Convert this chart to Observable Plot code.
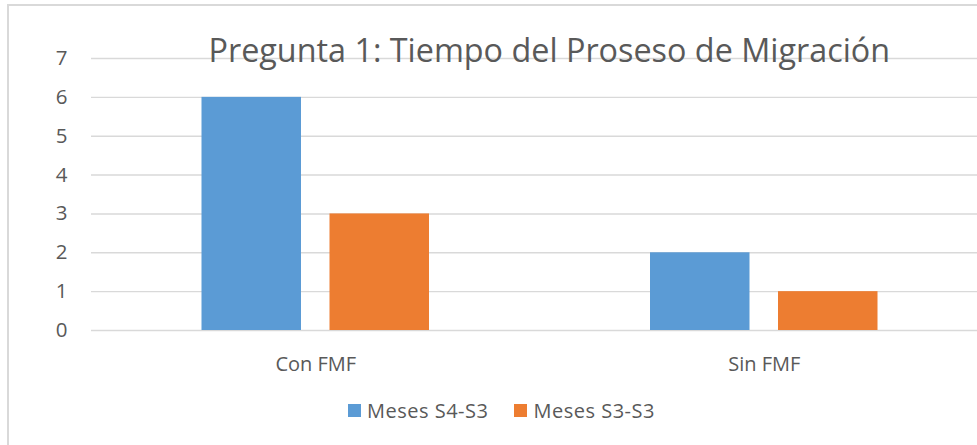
<!DOCTYPE html>
<html>
<head>
<meta charset="utf-8">
<script src="https://cdn.jsdelivr.net/npm/d3@7"></script>
<script src="https://cdn.jsdelivr.net/npm/@observablehq/plot@0.6"></script>
<style>
  body { margin: 0; background: #fff; font-family: "Open Sans", sans-serif; }
  #wrap { position: relative; width: 977px; height: 445px; overflow: hidden; background: #fff; }
  #frame { position: absolute; left: 7px; top: 4px; width: 1200px; height: 800px; border: 2px solid #d9d9d9; box-sizing: border-box; }
  #chart { position: absolute; left: 0; top: 0; }
  #title { position: absolute; top: 0; white-space: nowrap; color: #595959; font-family: "Open Sans", sans-serif; }
  #legend { position: absolute; top: 397px; left: 0; display: flex; align-items: center; color: #595959; font-size: 20px; letter-spacing: 0.5px; white-space: nowrap; }
  .sw { width: 13px; height: 13px; display: inline-block; }
</style>
</head>
<body>
<div id="wrap">
  <div id="frame"></div>
  <div id="chart"></div>
  <div id="title"></div>
  <div id="legend"></div>
</div>
<script>
const titleText = "Pregunta 1: Tiempo del Proseso de Migración";
const categories = ["Con FMF", "Sin FMF"];
const seriesNames = ["Meses S4-S3", "Meses S3-S3"];
const mesesS4S3 = [6, 2];
const mesesS3S3 = [3, 1];
const yTicks = [0, 1, 2, 3, 4, 5, 6, 7];
const seriesColors = ["#5B9BD5", "#ED7D31"];

const dataA = categories.map((c, i) => ({category: c, value: mesesS4S3[i]}));
const dataB = categories.map((c, i) => ({category: c, value: mesesS3S3[i]}));

const plot = Plot.plot({
  width: 977,
  height: 380,
  marginLeft: 91,
  marginRight: 0,
  marginTop: 58,
  marginBottom: 50,
  style: {fontFamily: "Open Sans, sans-serif", fontSize: "19px", color: "#595959", background: "transparent"},
  x: {domain: categories, range: [91, 988], padding: 0, round: false, axis: null},
  y: {domain: [0, 7], axis: null},
  marks: [
    Plot.ruleY(yTicks, {stroke: "#d9d9d9", strokeWidth: 1.4}),
    Plot.barY(dataA, {x: "category", y: "value", fill: seriesColors[0], insetLeft: 110.5, insetRight: 238.5}),
    Plot.barY(dataB, {x: "category", y: "value", fill: seriesColors[1], insetLeft: 238.5, insetRight: 110.5}),
    Plot.axisY(yTicks, {tickSize: 0, tickPadding: 24, fontSize: 20.5, textAnchor: "middle", dx: -6, label: null}),
    Plot.axisX({tickSize: 0, tickPadding: 26, fontSize: 20, label: null, style: {letterSpacing: "0.5px"}})
  ]
});
document.getElementById("chart").appendChild(plot);

// title: fit to reference width and center
const titleEl = document.getElementById("title");
const ctx = document.createElement("canvas").getContext("2d");
ctx.font = "30px 'Open Sans'";
const w30 = ctx.measureText(titleText).width;
const fs = 30 * 682 / w30;
titleEl.textContent = titleText;
titleEl.style.fontSize = fs + "px";
titleEl.style.lineHeight = "1";
const tw = 682;
titleEl.style.left = (549.5 - tw / 2) + "px";
titleEl.style.top = (62 - fs * 1.069 + (fs * 1.362 - fs) / 2) + "px";

// legend
const legend = document.getElementById("legend");
legend.style.left = "348px";
seriesNames.forEach((name, i) => {
  const sw = document.createElement("span");
  sw.className = "sw";
  sw.style.background = seriesColors[i];
  const lab = document.createElement("span");
  lab.textContent = name;
  lab.style.marginLeft = "6px";
  lab.style.marginRight = i === 0 ? "26px" : "0";
  legend.appendChild(sw);
  legend.appendChild(lab);
});
</script>
</body>
</html>
